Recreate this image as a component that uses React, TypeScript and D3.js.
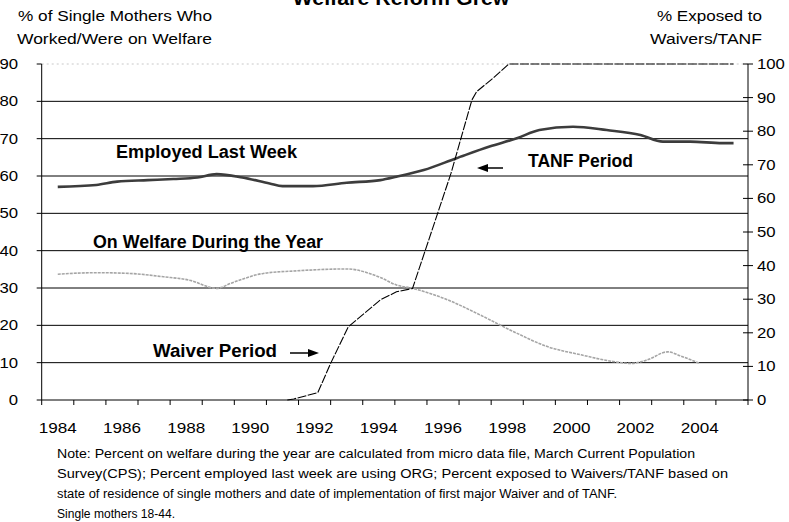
import React from 'react';
import * as d3 from 'd3';

const W = 789;
const H = 522;
const X0 = 41.7;
const X1 = 748;
const Y0 = 400;
const Y1 = 64;

const FONT = 'Liberation Sans, Arial, sans-serif';

const xDomain = [1984, 2006];
const xLabels = ['1984', '1986', '1988', '1990', '1992', '1994', '1996', '1998', '2000', '2002', '2004'];
const leftTicks = [0, 10, 20, 30, 40, 50, 60, 70, 80, 90];
const rightTicks = [0, 10, 20, 30, 40, 50, 60, 70, 80, 90, 100];

const employedYears = [1984.5, 1985.7, 1986.35, 1987.3, 1988.1, 1988.85, 1989.45, 1990.25, 1991.1, 1991.5, 1992.45, 1993.5, 1994.55, 1995.05, 1995.9, 1996.9, 1997.95, 1998.8, 1999.5, 2000.55, 2001.6, 2002.65, 2003.35, 2004.2, 2005.2, 2005.55];
const employedValues = [57.1, 57.6, 58.5, 58.9, 59.2, 59.6, 60.5, 59.6, 58.0, 57.3, 57.3, 58.2, 58.9, 59.8, 61.6, 64.7, 67.9, 70.1, 72.3, 73.2, 72.3, 71.0, 69.2, 69.2, 68.8, 68.8];

const welfareYears = [1984.5, 1985.7, 1986.75, 1987.8, 1988.6, 1989.45, 1989.9, 1990.9, 1991.95, 1993.5, 1994.55, 1995.05, 1995.55, 1996.65, 1997.65, 1998.7, 1999.75, 2000.8, 2001.8, 2002.35, 2002.85, 2003.5, 2003.9, 2004.5];
const welfareValues = [33.7, 34.1, 33.9, 33.0, 32.1, 29.9, 31.3, 33.9, 34.6, 35.1, 32.8, 30.8, 29.9, 26.8, 22.8, 18.3, 14.3, 12.1, 10.3, 9.8, 10.7, 12.9, 11.8, 9.8];

const exposedYears = [1991.65, 1991.85, 1992.6, 1993.0, 1993.55, 1994.55, 1995.05, 1995.55, 1995.95, 1996.75, 1997.4, 1997.55, 1998.05, 1998.55, 2005.55];
const exposedValues = [0, 0.3, 2.2, 10.9, 21.8, 29.8, 32.2, 33.2, 44.6, 67.5, 89.3, 91.8, 95.7, 100, 100];

const noteLines = [
  'Note: Percent on welfare during the year are calculated from micro data file, March Current Population',
  'Survey(CPS); Percent employed last week are using ORG; Percent exposed to Waivers/TANF based on',
  'state of residence of single mothers and date of implementation of first major Waiver and of TANF.',
  'Single mothers 18-44.',
];
const noteWidths = [638, 671, 560, 118];

export default function App() {
  const x = d3.scaleLinear().domain(xDomain).range([X0, X1]);
  const yL = d3.scaleLinear().domain([0, 90]).range([Y0, Y1]);
  const yR = d3.scaleLinear().domain([0, 100]).range([Y0, Y1]);

  const empLine = d3
    .line<number>()
    .x((_, i) => x(employedYears[i]))
    .y((d) => yL(d))
    .curve(d3.curveMonotoneX);
  const welLine = d3
    .line<number>()
    .x((_, i) => x(welfareYears[i]))
    .y((d) => yL(d))
    .curve(d3.curveMonotoneX);
  const expLine = d3
    .line<number>()
    .x((_, i) => x(exposedYears[i]))
    .y((d) => yR(d));

  const yearTicks = d3.range(xDomain[0], xDomain[1] + 1);

  return (
    <svg
      width={W}
      height={H}
      style={{ position: 'absolute', left: 0, top: 0, background: '#fff' }}
      fontFamily={FONT}
    >
      <rect x={0} y={0} width={W} height={H} fill="#fff" />
      {/* title (clipped at top, as in the reference) */}
      <text x={401} y={5} textAnchor="middle" fontSize={21} fontWeight="bold" textLength={217} lengthAdjust="spacingAndGlyphs">
        Welfare Reform Grew
      </text>
      {/* axis titles */}
      <text x={115} y={20.5} textAnchor="middle" fontSize={14} textLength={194} lengthAdjust="spacingAndGlyphs">
        % of Single Mothers Who
      </text>
      <text x={114.5} y={43.5} textAnchor="middle" fontSize={14} textLength={195} lengthAdjust="spacingAndGlyphs">
        Worked/Were on Welfare
      </text>
      <text x={709.5} y={20.5} textAnchor="middle" fontSize={14} textLength={105} lengthAdjust="spacingAndGlyphs">
        % Exposed to
      </text>
      <text x={706} y={43.5} textAnchor="middle" fontSize={14} textLength={112} lengthAdjust="spacingAndGlyphs">
        Waivers/TANF
      </text>

      {/* gridlines */}
      {leftTicks.map((t) =>
        t === 0 ? null : (
          <line
            key={'g' + t}
            x1={X0}
            x2={X1}
            y1={yL(t)}
            y2={yL(t)}
            stroke={t === 90 ? '#c8c8c8' : '#000'}
            strokeWidth={1}
            strokeDasharray={t === 90 ? '2,3' : undefined}
          />
        )
      )}

      {/* axes */}
      <line x1={X0} x2={X0} y1={Y1} y2={Y0} stroke="#000" />
      <line x1={X1} x2={X1} y1={Y1} y2={Y0} stroke="#000" />
      <line x1={X0} x2={X1} y1={Y0} y2={Y0} stroke="#000" />
      {leftTicks.map((t) => (
        <g key={'lt' + t}>
          <line x1={X0 - 5} x2={X0} y1={yL(t)} y2={yL(t)} stroke="#000" />
          <text
            x={18}
            y={yL(t)}
            dy="0.35em"
            textAnchor="end"
            fontSize={14}
            textLength={String(t).length * 9.3}
            lengthAdjust="spacingAndGlyphs"
          >
            {t}
          </text>
        </g>
      ))}
      {rightTicks.map((t) => (
        <g key={'rt' + t}>
          <line x1={X1 - 5} x2={X1 + 5} y1={yR(t)} y2={yR(t)} stroke="#000" />
          <text
            x={757}
            y={yR(t)}
            dy="0.35em"
            textAnchor="start"
            fontSize={14}
            textLength={String(t).length * 9.3}
            lengthAdjust="spacingAndGlyphs"
          >
            {t}
          </text>
        </g>
      ))}
      {yearTicks.map((yv) => (
        <line key={'xt' + yv} x1={x(yv)} x2={x(yv)} y1={Y0} y2={Y0 + 5} stroke="#000" />
      ))}
      {xLabels.map((lab) => (
        <text
          key={'xl' + lab}
          x={x(+lab + 0.5)}
          y={433}
          textAnchor="middle"
          fontSize={14}
          textLength={38}
          lengthAdjust="spacingAndGlyphs"
        >
          {lab}
        </text>
      ))}

      {/* series */}
      <path d={welLine(welfareValues) || ''} fill="none" stroke="#a5a5a5" strokeWidth={1.6} strokeDasharray="3,1" />
      <path d={empLine(employedValues) || ''} fill="none" stroke="#3c3c3c" strokeWidth={2.6} />
      <path d={expLine(exposedValues) || ''} fill="none" stroke="#000" strokeWidth={1.1} strokeDasharray="9,1.5" />

      {/* annotations */}
      <text x={116} y={158} fontSize={18} fontWeight="bold" textLength={181} lengthAdjust="spacingAndGlyphs">
        Employed Last Week
      </text>
      <text x={93} y={248} fontSize={18} fontWeight="bold" textLength={230} lengthAdjust="spacingAndGlyphs">
        On Welfare During the Year
      </text>
      <text x={528} y={167} fontSize={18} fontWeight="bold" textLength={105} lengthAdjust="spacingAndGlyphs">
        TANF Period
      </text>
      <text x={153} y={357} fontSize={18} fontWeight="bold" textLength={124} lengthAdjust="spacingAndGlyphs">
        Waiver Period
      </text>
      {/* arrows */}
      <line x1={486} x2={503} y1={168} y2={168} stroke="#000" strokeWidth={1.5} />
      <path d="M477,168 L488,164 L488,172 Z" fill="#000" />
      <line x1={290} x2={310} y1={353} y2={353} stroke="#000" strokeWidth={1.5} />
      <path d="M319,353 L308,349 L308,357 Z" fill="#000" />

      {/* note */}
      {noteLines.map((ln, i) => (
        <text
          key={'n' + i}
          x={57}
          y={458 + i * 20}
          fontSize={12}
          textLength={noteWidths[i]}
          lengthAdjust="spacingAndGlyphs"
        >
          {ln}
        </text>
      ))}
    </svg>
  );
}
